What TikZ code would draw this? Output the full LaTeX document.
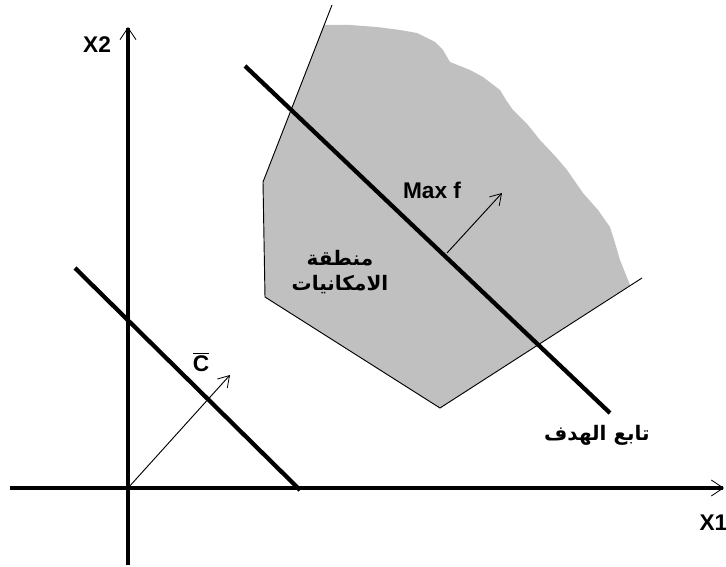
\documentclass[tikz,border=0pt]{standalone}
\usepackage{fontspec}
\setmainfont{Liberation Sans}
\newfontfamily\arabicfont[Script=Arabic]{DejaVu Sans}
\TeXXeTstate=1
\usetikzlibrary{arrows.meta}
\definecolor{regiongray}{RGB}{192,192,192}
\begin{document}
\begin{tikzpicture}[x=0.75pt, y=-0.75pt,
		axis/.style={line width=2.5pt, -{Straight Barb[line width=0.6pt, length=9pt, width=12pt]}},
		objline/.style={line width=3.2pt},
		border/.style={line width=0.7pt},
		vec/.style={line width=0.7pt, -{Straight Barb[line width=0.6pt, length=8pt, width=10pt]}},
		lbl/.style={inner sep=1pt, font=\fontsize{17}{20}\selectfont\bfseries},
		arlbl/.style={inner sep=1pt, align=center, font=\fontsize{15}{19}\selectfont\arabicfont\bfseries},
	]
	\useasboundingbox (0,0) rectangle (726,567);

	% axes
	\coordinate (O)  at (128,488);
	\coordinate (x0) at (10,488);
	\coordinate (x1) at (724,488);
	\coordinate (y0) at (128,565);
	\coordinate (y1) at (128,27);

	% feasible region
	\coordinate (r1) at (332,5);
	\coordinate (r2) at (263,182);
	\coordinate (r3) at (265,297);
	\coordinate (r4) at (440,408);
	\coordinate (r5) at (642,278);

	\fill[regiongray] (324,25) -- (350,25) -- (377,27) -- (400,30) -- (417,33) -- (435,42)
		-- (443,50) -- (450,62) -- (470,70) -- (483,77) -- (500,90) -- (506,100)
		-- (513,110) -- (528,125) -- (540,140) -- (556,157) -- (567,170)
		-- (583,193) -- (598,210) -- (610,227) -- (615,243) -- (620,260) -- (630,285)
		-- (r4) -- (r3) -- (r2) -- cycle;
	\draw[border] (r1) -- (r2) -- (r3) -- (r4) -- (r5);

	\draw[axis] (x0) -- (x1);
	\draw[axis] (y0) -- (y1);

	% lines of the objective function
	\coordinate (c0) at (75,268);
	\coordinate (c1) at (300,490);
	\coordinate (f0) at (245,66);
	\coordinate (f1) at (610,413);
	\draw[objline] (c0) -- (c1);
	\draw[objline] (f0) -- (f1);

	% gradient vectors
	\coordinate (cv) at (230,375);
	\coordinate (fa) at (447,253);
	\coordinate (fv) at (502,193);
	\draw[vec] (O) -- (cv);
	\draw[vec] (fa) -- (fv);

	\node[lbl] (lx2) at (97,45)  {X2};
	\node[lbl, anchor=west] (lx1) at (698,523) {X1};
	\node[lbl] (lc)  at (201,362) {$\overline{\mbox{C}}$};
	\node[lbl] (lmax) at (432,190) {Max f};
	\node[arlbl] (lreg) at (340,272) {\beginR منطقة\endR\\\beginR الامكانيات\endR};
	\node[arlbl] (lobj) at (597,435) {\beginR تابع الهدف\endR};
\end{tikzpicture}
\end{document}
